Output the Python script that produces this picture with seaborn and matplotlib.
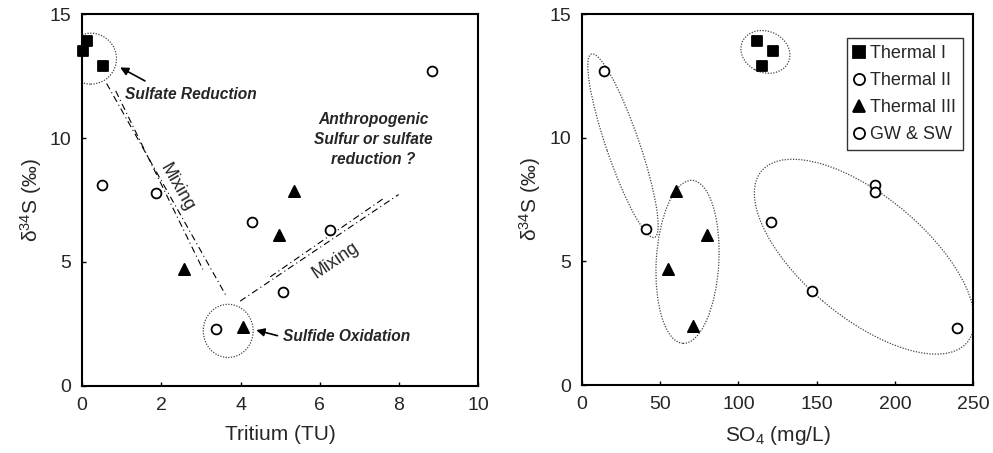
import pandas as pd
import matplotlib
matplotlib.use("Agg")
import matplotlib.pyplot as plt
from matplotlib.patches import Ellipse
from matplotlib.lines import Line2D
import seaborn as sns

# Data
groups = ["Thermal I"] * 3 + ["Thermal II"] * 3 + ["Thermal III"] * 4 + ["GW & SW"] * 4
tritium = [0.02, 0.12, 0.52,
           0.50, 1.87, 4.28,
           2.58, 4.98, 5.36, 4.07,
           8.83, 6.26, 5.07, 3.38]
so4 = [122, 112, 115,
       187, 187, 121,
       55, 80, 60, 71,
       14, 41, 147, 240]
d34s = [13.5, 13.9, 12.9,
        8.1, 7.8, 6.6,
        4.7, 6.07, 7.86, 2.38,
        12.7, 6.3, 3.8, 2.3]

df = pd.DataFrame({"group": groups, "tritium": tritium, "so4": so4, "d34s": d34s})

sns.set_theme(style="ticks")
plt.rcParams["font.family"] = ["Liberation Sans", "DejaVu Sans"]
plt.rcParams["mathtext.fontset"] = "custom"
plt.rcParams["mathtext.rm"] = "Liberation Sans"

styles = {
    "Thermal I": dict(marker="s", color="black", s=55),
    "Thermal II": dict(marker="o", color="white", s=50),
    "Thermal III": dict(marker="^", color="black", s=65),
    "GW & SW": dict(marker="o", color="white", s=50),
}

fig = plt.figure(figsize=(9.93, 4.53), dpi=100)
ax1 = fig.add_axes([0.0826, 0.148, 0.399, 0.821])
ax2 = fig.add_axes([0.586, 0.150, 0.394, 0.819])

for g, st in styles.items():
    sub = df[df["group"] == g]
    sns.scatterplot(data=sub, x="tritium", y="d34s", ax=ax1, edgecolor="black",
                    linewidth=1.3, legend=False, zorder=3, clip_on=False, **st)
    sns.scatterplot(data=sub, x="so4", y="d34s", ax=ax2, edgecolor="black",
                    linewidth=1.3, legend=False, zorder=3, clip_on=False, **st)

ylab = r"$\mathregular{δ^{34}}$S (‰)"
for ax in (ax1, ax2):
    ax.set_ylim(0, 15)
    ax.set_yticks([0, 5, 10, 15])
    ax.set_ylabel(ylab, fontsize=15, labelpad=4)
    ax.tick_params(direction="in", length=3, width=1, labelsize=14, pad=8, color="black")
    for sp in ax.spines.values():
        sp.set_visible(True)
        sp.set_color("black")
        sp.set_linewidth(1.5)

ax1.set_xlim(0, 10)
ax1.set_xticks([0, 2, 4, 6, 8, 10])
ax1.set_xlabel("Tritium (TU)", fontsize=15, labelpad=8)
ax2.set_xlim(0, 250)
ax2.set_xticks([0, 50, 100, 150, 200, 250])
ax2.set_xlabel(r"$\mathregular{SO_4}$ (mg/L)", fontsize=15, labelpad=8)

# left panel annotations
circ_kw = dict(fill=False, ec="#444444", lw=0.9, ls=(0, (1, 1.2)), transform=ax1.transAxes)
ax1.add_patch(Ellipse((0.022, 0.88), 0.13, 0.137, **circ_kw))
ax1.add_patch(Ellipse((0.369, 0.148), 0.126, 0.143, **circ_kw))

mix_kw = dict(color="black", lw=0.8, ls=(0, (6, 3, 1, 3)))
ax1.plot([0.62, 3.65], [12.2, 3.6], **mix_kw)
ax1.plot([0.85, 3.05], [11.9, 4.7], **mix_kw)
ax1.plot([3.99, 7.99], [3.42, 7.72], **mix_kw)
ax1.plot([4.75, 7.6], [4.4, 7.55], **mix_kw)

ax1.text(2.4, 8.0, "Mixing", rotation=-60, fontsize=13, ha="center", va="center")
ax1.text(6.4, 5.05, "Mixing", rotation=34, fontsize=13, ha="center", va="center")

bi = dict(fontsize=11.2, fontweight="bold", fontstyle="italic")
ax1.text(1.08, 11.75, "Sulfate Reduction", ha="left", va="center", **bi)
ax1.annotate("", xy=(0.9, 12.9), xytext=(1.65, 12.25),
             arrowprops=dict(arrowstyle="-|>", color="black", lw=1.2))
ax1.text(7.36, 9.93, "Anthropogenic\nSulfur or sulfate\nreduction ?", ha="center",
         va="center", linespacing=1.4, **bi)
ax1.text(5.08, 2.0, "Sulfide Oxidation", ha="left", va="center", **bi)
ax1.annotate("", xy=(4.33, 2.28), xytext=(5.0, 2.0),
             arrowprops=dict(arrowstyle="-|>", color="black", lw=1.2))

# right panel ellipses
ell_kw = dict(fill=False, ec="#444444", lw=0.9, ls=(0, (1, 1.2)), transform=ax2.transAxes)
ax2.add_patch(Ellipse((0.469, 0.898), 0.13, 0.11, angle=-30, **ell_kw))
ax2.add_patch(Ellipse((0.105, 0.645), 0.52, 0.085, angle=-72, **ell_kw))
ax2.add_patch(Ellipse((0.270, 0.332), 0.16, 0.44, angle=-3, **ell_kw))
ax2.add_patch(Ellipse((0.722, 0.346), 0.70, 0.32, angle=-42, **ell_kw))

handles = []
for g, st in styles.items():
    handles.append(Line2D([], [], ls="none", marker=st["marker"], markersize=8,
                          markerfacecolor=st["color"], markeredgecolor="black",
                          markeredgewidth=1.3, label=g))
leg = ax2.legend(handles=handles, loc="upper right", bbox_to_anchor=(0.975, 0.935),
                 fontsize=13, frameon=True, fancybox=False, edgecolor="black",
                 handlelength=0.6, handletextpad=0.3, labelspacing=0.55,
                 borderpad=0.4, borderaxespad=0)
leg.get_frame().set_linewidth(1.0)

fig.savefig("out.png", dpi=100)
